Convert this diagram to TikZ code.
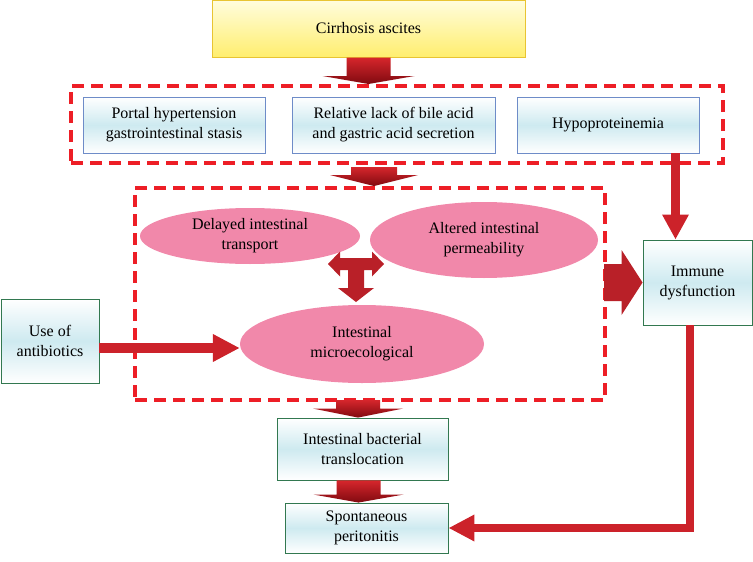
\documentclass[tikz,border=0pt]{standalone}
\usepackage{fontspec}
\setmainfont{Liberation Serif}
\usetikzlibrary{shapes.geometric,arrows.meta,calc}
\definecolor{dashred}{RGB}{237,30,38}
\definecolor{arrred}{RGB}{204,34,42}
\definecolor{darkarr}{RGB}{185,32,40}
\definecolor{blkTop}{RGB}{214,38,44}
\definecolor{blkBot}{RGB}{128,10,16}
\definecolor{boxblue}{RGB}{110,140,200}
\definecolor{boxgreen}{RGB}{50,120,80}
\definecolor{cyanfill}{RGB}{206,234,240}
\definecolor{pinkfill}{RGB}{241,136,170}
\definecolor{yelTop}{RGB}{255,253,222}
\definecolor{yelBot}{RGB}{255,238,110}
\definecolor{yelBorder}{RGB}{232,196,50}
\newcommand\myvarrow[5]{%
  \path[blockfill] let \p1=(#1), \p2=(#2) in
  (\x1-#3pt,\y1) -- (\x1+#3pt,\y1) -- (\x1+#3pt,\y2+#5pt) -- (\x1+#4pt,\y2+#5pt)
  -- (\x1,\y2) -- (\x1-#4pt,\y2+#5pt) -- (\x1-#3pt,\y2+#5pt) -- cycle;}
\begin{document}
\begin{tikzpicture}[x=1pt,y=-1pt,
  every node/.style={font=\fontsize{16}{20}\selectfont, align=center, inner sep=0pt},
  bluebox/.style={draw=boxblue, line width=0.9pt, top color=white, bottom color=white, middle color=cyanfill, minimum height=56pt},
  greenbox/.style={draw=boxgreen, line width=0.9pt, top color=white, bottom color=white, middle color=cyanfill},
  pinkell/.style={ellipse, fill=pinkfill},
  dashgroup/.style={draw=dashred, line width=4pt, dash pattern=on 12pt off 7pt},
  blockfill/.style={top color=blkTop, bottom color=blkBot},
  thickarr/.style={draw=arrred, line join=miter}
]
\useasboundingbox (0,0) rectangle (753,562);

% nodes
\node[draw=yelBorder, line width=1pt, top color=yelTop, bottom color=yelBot,
      minimum width=313pt, minimum height=57pt] (cir) at (368.5,28.5) {Cirrhosis ascites};

\node[dashgroup, minimum width=652pt, minimum height=77pt] (grp1) at (397,124.5) {};
\node[bluebox, minimum width=182pt] (portal) at (174,125) {Portal hypertension\\gastrointestinal stasis};
\node[bluebox, minimum width=203pt] (rel) at (393.5,125) {Relative lack of bile acid\\and gastric acid secretion};
\node[bluebox, minimum width=182pt] (hypo) at (608,125) {Hypoproteinemia};

\node[dashgroup, minimum width=470pt, minimum height=212pt] (grp2) at (370,294) {};
\node[pinkell, minimum width=220pt, minimum height=56pt] (del) at (250,236) {Delayed intestinal\\transport};
\node[pinkell, minimum width=228pt, minimum height=76pt] (alt) at (484,240) {Altered intestinal\\permeability};
\node[pinkell, minimum width=244pt, minimum height=78pt] (mic) at (362,344) {Intestinal\\microecological};

\node[greenbox, minimum width=109pt, minimum height=85pt] (imm) at (697.5,282.5) {Immune\\dysfunction};
\node[greenbox, minimum width=98pt, minimum height=84pt] (use) at (50,341) {Use of\\antibiotics};
\node[greenbox, minimum width=171pt, minimum height=62pt] (trans) at (362.5,449) {Intestinal bacterial\\translocation};
\node[greenbox, minimum width=163pt, minimum height=50pt] (spont) at (366.5,528) {Spontaneous\\peritonitis};

% block arrows
\myvarrow{cir.south}{grp1.north}{22}{46}{8}
\myvarrow{$(grp1.south)+(-23,2)$}{grp2.north}{23}{44}{11}
\myvarrow{$(grp2.south)+(-12,-2)$}{trans.north}{22}{45}{9}
\myvarrow{$(trans.south)+(-4,0)$}{spont.north}{22}{45}{8}

% T arrow among ellipses
\coordinate (tc) at (356,264);
\begin{scope}[shift={(tc)}]
\fill[darkarr] (-28,0) -- (-16,-12.5) -- (-16,-6) -- (16,-6) -- (16,-12.5) -- (28,0)
  -- (16,12.5) -- (16,6) -- (8,6) -- (8,24) -- (18,24) -- (0,38) -- (-18,24)
  -- (-8,24) -- (-8,6) -- (-16,6) -- (-16,12.5) -- cycle;
\end{scope}

% big arrow to immune dysfunction
\path[fill=darkarr] let \p1=($(grp2.east |- imm.west)+(-3,0)$), \p2=(imm.west) in
  (\x1,\y1+18.5pt) -- (\x2-21pt,\y1+18.5pt) -- (\x2-21pt,\y1+32.5pt) -- (\x2,\y1)
  -- (\x2-21pt,\y1-32.5pt) -- (\x2-21pt,\y1-18.5pt) -- (\x1,\y1-18.5pt) -- cycle;

% line arrows
\coordinate (ux) at ($(use.east)+(0,7)$);
\draw[thickarr, line width=10pt, -{Triangle[length=27pt,width=26pt]}]
  (ux) -- (ux -| mic.west);
\coordinate (hx) at ($(imm.north)+(-22,0)$);
\draw[thickarr, line width=9pt, -{Triangle[length=25pt,width=25pt]}]
  (hx |- hypo.south) -- (hx);
\coordinate (ix) at ($(imm.south)+(-8,0)$);
\draw[thickarr, line width=8pt, -{Triangle[length=26pt,width=25pt]}]
  (ix) |- (spont.east);
\end{tikzpicture}
\end{document}
